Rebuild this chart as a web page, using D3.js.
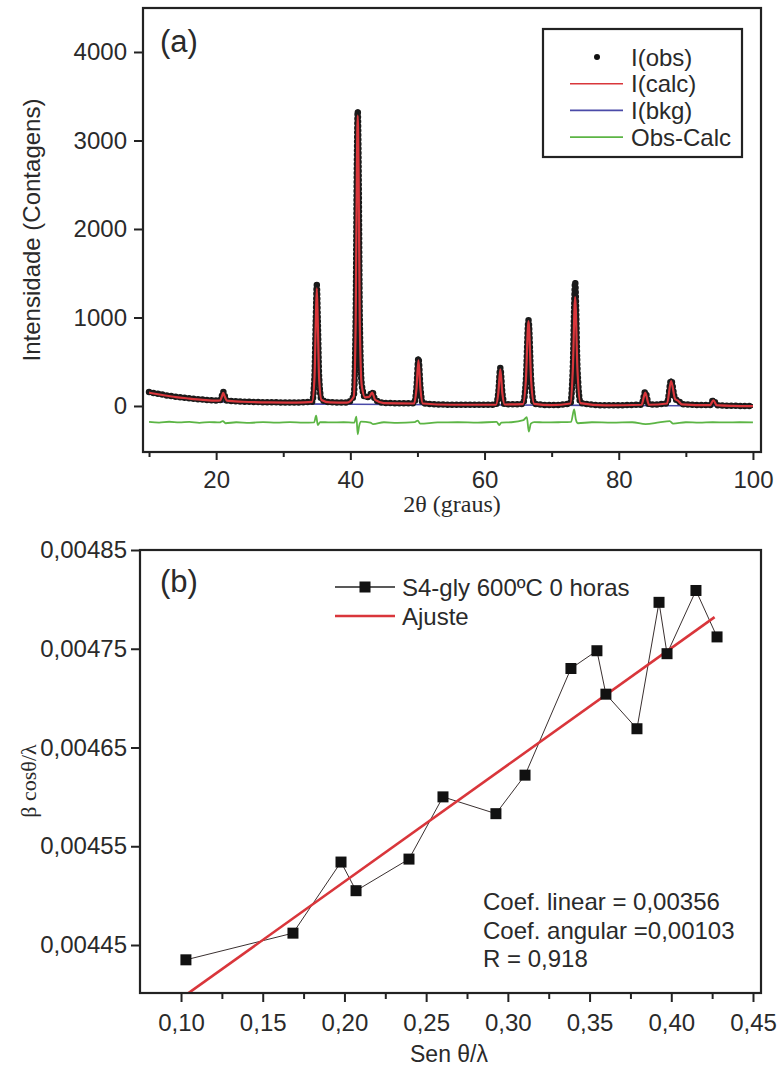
<!DOCTYPE html>
<html lang="pt-BR">
<head>
<meta charset="utf-8">
<title>DRX - Rietveld e Williamson-Hall</title>
<style>
  body { margin: 0; background: #fff; }
  svg { display: block; font-family: 'Liberation Sans', Arial, sans-serif; }
  .serif { font-family: 'Liberation Serif', 'Times New Roman', serif; }
</style>
<script src="https://d3js.org/d3.v7.min.js"></script>
</head>
<body>
<svg id="chart" width="778" height="1068"></svg>
<script>
// ---- (a) refinamento: pontos ----
var twoTheta = [10, 12, 14, 16, 18, 20, 20.6, 20.85, 21.05, 21.3, 21.6, 24, 28, 32,
  34.3, 34.65, 34.85, 35.0, 35.15, 35.35, 35.7, 37, 39.5,
  40.5, 40.8, 40.97, 41.1, 41.23, 41.4, 41.7, 42.2, 42.8, 43.25, 43.7, 45,
  49.5, 49.85, 50.15, 50.45, 50.8, 55,
  61.7, 62.05, 62.35, 62.65, 63, 65.7, 66.15, 66.55, 66.95, 67.4, 70,
  72.8, 73.15, 73.5, 73.85, 74.3, 78, 83.4, 83.95, 84.5,
  87.2, 87.8, 88.4, 88.9, 89.4, 93.6, 94.1, 94.6, 97, 100];
var iObs = [158, 128, 104, 86, 72, 62, 66, 110, 160, 108, 62, 50, 42, 40,
  48, 320, 960, 1366, 960, 320, 70, 42, 40,
  110, 1000, 2700, 3330, 2700, 1000, 240, 100, 105, 160, 70, 35,
  30, 200, 540, 200, 30, 15,
  15, 150, 430, 150, 18, 22, 280, 970, 280, 25, 10,
  30, 420, 1400, 420, 35, 8, 15, 160, 15,
  30, 290, 80, 60, 20, 10, 70, 10, 2, 0];
var iCalc = [150, 124, 100, 84, 70, 60, 63, 105, 148, 104, 60, 48, 40, 38,
  46, 310, 940, 1330, 940, 310, 68, 40, 38,
  105, 980, 2650, 3280, 2650, 980, 230, 98, 102, 152, 68, 33,
  28, 190, 515, 190, 28, 14,
  14, 145, 415, 145, 17, 20, 280, 960, 280, 24, 9,
  28, 400, 1230, 400, 33, 7, 14, 150, 14,
  28, 280, 78, 56, 19, 9, 65, 9, 1, -2];
var bkgX = [10, 14, 18, 22, 26, 30, 40, 60, 80, 100];
var bkgY = [140, 92, 62, 42, 30, 24, 20, 12, 6, 0];
var diffX = [10, 11.5, 13, 14.5, 16, 17.5, 19, 20.5, 21, 21.4, 23, 25, 27, 29, 31, 33,
  34.6, 34.9, 35.15, 35.5, 37, 39, 40.6, 40.9, 41.1, 41.3, 41.6, 43, 43.4, 45,
  47, 49.6, 50.05, 50.4, 53, 56, 59, 61.8, 62.2, 62.5, 64, 65.8, 66.3, 66.6, 66.9, 67.4,
  69, 71, 72.9, 73.35, 73.6, 73.9, 76, 79, 82, 84, 86, 87.6, 88.1, 90, 92, 94, 96, 98, 100];
var diffY = [-180, -188, -178, -186, -180, -190, -182, -186, -170, -195, -184, -190, -182, -188, -183, -188,
  -186, -110, -215, -182, -186, -184, -188, -120, -320, -230, -176, -188, -205, -184,
  -190, -182, -165, -200, -186, -184, -188, -180, -215, -188, -184, -160, -125, -290, -200, -182,
  -186, -184, -180, -40, -150, -195, -184, -188, -184, -205, -186, -170, -200, -184, -188, -184, -186, -184, -186];
var xTicksA = [20, 40, 60, 80, 100];
var xMinorA = [10, 30, 50, 70, 90];
var yTicksA = [0, 1000, 2000, 3000, 4000];
var legendA = ["I(obs)", "I(calc)", "I(bkg)", "Obs-Calc"];

// ---- (b) Williamson-Hall ----
var senTheta = [0.1030, 0.1685, 0.1979, 0.2071, 0.2395, 0.2603, 0.2927, 0.3105,
  0.3386, 0.3545, 0.3600, 0.3790, 0.3925, 0.3974, 0.4151, 0.4280];
var betaCos = [0.004435, 0.004462, 0.004534, 0.004505, 0.004537, 0.004600, 0.004583, 0.004622,
  0.004730, 0.004748, 0.004704, 0.004669, 0.004797, 0.004745, 0.004809, 0.004762];
var fitX = [0.1043, 0.4265];
var fitY = [0.004401, 0.004782];
var xTicksB = [0.10, 0.15, 0.20, 0.25, 0.30, 0.35, 0.40, 0.45];
var xMinorB = [0.125, 0.175, 0.225, 0.275, 0.325, 0.375, 0.425];
var yTicksB = [0.00445, 0.00455, 0.00465, 0.00475, 0.00485];
var legendB = ["S4-gly 600ºC 0 horas", "Ajuste"];
var notesB = ["Coef. linear = 0,00356", "Coef. angular =0,00103", "R = 0,918"];

var ptBR = d3.formatLocale({ decimal: ",", thousands: ".", grouping: [3], currency: ["", ""] });
var txt = "#2a2a2a";
var cRed = "#d9363b", cBlue = "#4a4aa8", cGreen = "#5cb545";

var svg = d3.select("#chart");
svg.append("rect").attr("width", 778).attr("height", 1068).attr("fill", "#fff");

// ================= painel (a) =================
var xa = d3.scaleLinear().domain([9.1, 101.2]).range([143, 761]);
var ya = d3.scaleLinear().domain([-520, 4497]).range([452, 8]);

var ga = svg.append("g");
ga.append("clipPath").attr("id", "clipA").append("rect")
  .attr("x", 143).attr("y", 8).attr("width", 618).attr("height", 444);
var plotA = ga.append("g").attr("clip-path", "url(#clipA)");

var lineA = d3.line().curve(d3.curveMonotoneX);

plotA.append("path")
  .attr("d", lineA(diffX.map(function (d, i) { return [xa(d), ya(diffY[i])]; })))
  .attr("fill", "none").attr("stroke", cGreen).attr("stroke-width", 1.8);

plotA.append("path")
  .attr("d", lineA(bkgX.map(function (d, i) { return [xa(d), ya(bkgY[i])]; })))
  .attr("fill", "none").attr("stroke", cBlue).attr("stroke-width", 1.6);

// pontos observados: tracejado de pontos redondos sobre a curva
var obsD = lineA(twoTheta.map(function (d, i) { return [xa(d), ya(iObs[i])]; }));
plotA.append("path").attr("d", obsD)
  .attr("fill", "none").attr("stroke", "#222").attr("stroke-width", 4)
  .attr("stroke-linejoin", "round");
plotA.append("path").attr("d", obsD)
  .attr("fill", "none").attr("stroke", "#1a1a1a").attr("stroke-width", 6.5)
  .attr("stroke-linecap", "round").attr("stroke-dasharray", "0,4.5");

plotA.append("path")
  .attr("d", lineA(twoTheta.map(function (d, i) { return [xa(d), ya(iCalc[i])]; })))
  .attr("fill", "none").attr("stroke", cRed).attr("stroke-width", 2.2);

// moldura e eixos
ga.append("rect").attr("x", 143).attr("y", 8).attr("width", 618).attr("height", 444)
  .attr("fill", "none").attr("stroke", "#222").attr("stroke-width", 2.2);

var axXA = ga.append("g").attr("transform", "translate(0,452)")
  .call(d3.axisBottom(xa).tickValues(xTicksA).tickSize(8).tickFormat(d3.format("d")));
ga.append("g").attr("transform", "translate(0,452)")
  .call(d3.axisBottom(xa).tickValues(xMinorA).tickSize(5).tickFormat(""));
var axYA = ga.append("g").attr("transform", "translate(143,0)")
  .call(d3.axisLeft(ya).tickValues(yTicksA).tickSize(9).tickFormat(d3.format("d")));

// ================= painel (b) =================
var xb = d3.scaleLinear().domain([0.0749, 0.4549]).range([140, 761]);
var yb = d3.scaleLinear().domain([0.0044014, 0.00485]).range([993, 550]);

var gb = svg.append("g");
gb.append("clipPath").attr("id", "clipB").append("rect")
  .attr("x", 140).attr("y", 550).attr("width", 621).attr("height", 443);
var plotB = gb.append("g").attr("clip-path", "url(#clipB)");

plotB.append("path")
  .attr("d", d3.line()(senTheta.map(function (d, i) { return [xb(d), yb(betaCos[i])]; })))
  .attr("fill", "none").attr("stroke", "#3a3030").attr("stroke-width", 1);

plotB.append("path")
  .attr("d", d3.line()(fitX.map(function (d, i) { return [xb(d), yb(fitY[i])]; })))
  .attr("fill", "none").attr("stroke", cRed).attr("stroke-width", 2.6);

plotB.selectAll("rect.pt").data(senTheta).enter().append("rect")
  .attr("class", "pt")
  .attr("x", function (d) { return xb(d) - 5.5; })
  .attr("y", function (d, i) { return yb(betaCos[i]) - 5.5; })
  .attr("width", 11).attr("height", 11).attr("fill", "#111");

gb.append("rect").attr("x", 140).attr("y", 550).attr("width", 621).attr("height", 443)
  .attr("fill", "none").attr("stroke", "#222").attr("stroke-width", 2.2);

var axXB = gb.append("g").attr("transform", "translate(0,993)")
  .call(d3.axisBottom(xb).tickValues(xTicksB).tickSize(9).tickFormat(ptBR.format(".2f")));
gb.append("g").attr("transform", "translate(0,993)")
  .call(d3.axisBottom(xb).tickValues(xMinorB).tickSize(6).tickFormat(""));
var axYB = gb.append("g").attr("transform", "translate(140,0)")
  .call(d3.axisLeft(yb).tickValues(yTicksB).tickSize(9).tickFormat(ptBR.format(".5f")));

// estilo comum dos eixos
svg.selectAll(".domain").remove();
svg.selectAll(".tick line").attr("stroke", "#222").attr("stroke-width", 2);
svg.selectAll(".tick text").attr("fill", txt).attr("font-size", 24)
  .attr("font-family", "'Liberation Sans', Arial, sans-serif");
axXA.selectAll(".tick text").attr("dy", "1.05em");
axXB.selectAll(".tick text").attr("dy", "1.1em");
axYA.selectAll(".tick text").attr("x", -16);
axYB.selectAll(".tick text").attr("x", -13);

// ---- textos do painel (a) ----
svg.append("text").attr("x", 160).attr("y", 52).attr("font-size", 31).attr("fill", txt).text("(a)");
svg.append("text").attr("transform", "translate(40,230) rotate(-90)")
  .attr("text-anchor", "middle").attr("font-size", 24).attr("fill", txt)
  .text("Intensidade (Contagens)");
svg.append("text").attr("class", "serif").attr("x", 452).attr("y", 512)
  .attr("text-anchor", "middle").attr("font-size", 24).attr("fill", txt)
  .text("2θ (graus)");

// legenda (a)
var legA = svg.append("g");
legA.append("rect").attr("x", 543).attr("y", 29).attr("width", 199).attr("height", 128)
  .attr("fill", "#fff").attr("stroke", "#222").attr("stroke-width", 2.2);
var legColors = ["#111", cRed, cBlue, cGreen];
legendA.forEach(function (name, i) {
  var cy = 57 + i * 26.7;
  if (i === 0) {
    legA.append("circle").attr("cx", 597).attr("cy", cy).attr("r", 3).attr("fill", "#111");
  } else {
    legA.append("line").attr("x1", 570).attr("x2", 623).attr("y1", cy).attr("y2", cy)
      .attr("stroke", legColors[i]).attr("stroke-width", 1.6);
  }
  legA.append("text").attr("x", 631).attr("y", cy).attr("dy", "0.36em")
    .attr("font-size", 24).attr("fill", txt).text(name);
});

// ---- textos do painel (b) ----
svg.append("text").attr("x", 160).attr("y", 592).attr("font-size", 31).attr("fill", txt).text("(b)");
svg.append("text").attr("class", "serif").attr("transform", "translate(36,781) rotate(-90)")
  .attr("text-anchor", "middle").attr("font-size", 22).attr("fill", txt)
  .text("β cosθ/λ");
svg.append("text").attr("x", 449).attr("y", 1062)
  .attr("text-anchor", "middle").attr("font-size", 23).attr("fill", txt)
  .text("Sen θ/λ");

var legB = svg.append("g");
legB.append("line").attr("x1", 335).attr("x2", 395).attr("y1", 587).attr("y2", 587)
  .attr("stroke", "#222").attr("stroke-width", 1.5);
legB.append("rect").attr("x", 359.5).attr("y", 581.5).attr("width", 11).attr("height", 11).attr("fill", "#111");
legB.append("line").attr("x1", 335).attr("x2", 395).attr("y1", 616).attr("y2", 616)
  .attr("stroke", cRed).attr("stroke-width", 2.6);
legendB.forEach(function (name, i) {
  legB.append("text").attr("x", 402).attr("y", 587 + i * 29).attr("dy", "0.36em")
    .attr("font-size", 24).attr("fill", txt).text(name);
});

notesB.forEach(function (t, i) {
  svg.append("text").attr("x", 483).attr("y", 910 + i * 28.5)
    .attr("font-size", 24).attr("fill", txt).text(t);
});
</script>
</body>
</html>
